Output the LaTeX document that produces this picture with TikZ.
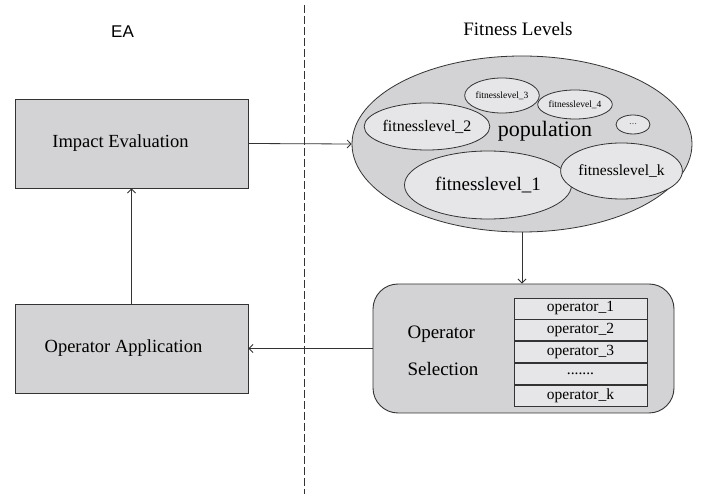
\documentclass[tikz,border=0pt]{standalone}
\usepackage{fontspec}
\setmainfont{Liberation Serif}
\newfontfamily\eafont{Liberation Sans}
\usetikzlibrary{shapes.geometric,positioning,arrows.meta}
\tikzset{>={Straight Barb[length=4pt,width=8pt]}}
\definecolor{boxGray}{HTML}{D3D3D5}
\definecolor{lvlGray}{HTML}{E6E6E8}
\definecolor{penGray}{HTML}{333333}
\tikzset{
  stagebox/.style={draw=penGray, line width=0.9pt, fill=boxGray, minimum width=233pt, minimum height=89pt, inner sep=0pt},
  lvl/.style={draw=penGray, line width=0.8pt, ellipse, fill=lvlGray, inner sep=0pt},
  opcell/.style={draw=penGray, line width=0.8pt, fill=lvlGray, minimum width=133pt, minimum height=21pt, inner sep=0pt, font=\fontsize{15.5}{17}\selectfont},
  link/.style={->, draw=penGray, line width=0.8pt}
}
\begin{document}
\begin{tikzpicture}[x=1pt,y=-1pt]
				\useasboundingbox (0,0) rectangle (716,494);
				% left side
				\node[font=\eafont\fontsize{17}{19}\selectfont] (ea) at (122.5,32) {EA};
				\node[stagebox, font=\fontsize{18.5}{21}\selectfont] (imp) at (131.5,143.5) {Impact Evaluation\kern22pt};
				\node[stagebox, font=\fontsize{18.5}{21}\selectfont] (app) at (131.5,348.5) {Operator Application\kern16pt};
				% separator
				\draw[draw=penGray, line width=0.9pt, dash pattern=on 8pt off 3pt] (304.5,5) -- (304.5,494);
				% right side
				\node[font=\fontsize{19}{21}\selectfont] (fit) at (518,29) {Fitness Levels};
				\node[lvl, fill=boxGray, minimum width=340pt, minimum height=176pt] (pop) at (522,144) {};
				\node[font=\fontsize{22}{24}\selectfont] (poptext) at (545,131) {population};
				\node[lvl, minimum width=167pt, minimum height=68pt, font=\fontsize{19}{21}\selectfont] (lvl1) at (488,185) {fitnesslevel\_1};
				\node[lvl, minimum width=102pt, minimum height=47pt, font=\fontsize{16}{18}\selectfont] (lvl2) at (427,126.5) {fitnesslevel\_2};
				\node[lvl, minimum width=64pt, minimum height=35pt, font=\fontsize{9.5}{11}\selectfont] (lvl3) at (502,95.5) {fitnesslevel\_3};
				\node[lvl, minimum width=62pt, minimum height=29pt, font=\fontsize{9.5}{11}\selectfont] (lvl4) at (575,104.5) {fitnesslevel\_4};
				\node[lvl, minimum width=34pt, minimum height=19pt, font=\fontsize{8}{9}\selectfont] (lvldots) at (633,124.5) {\ldots};
				\node[lvl, minimum width=93pt, minimum height=56pt, font=\fontsize{15.5}{17}\selectfont] (lvlk) at (621.5,171) {fitnesslevel\_k};
				\node[draw=penGray, line width=0.9pt, fill=boxGray, rounded corners=25pt, minimum width=301pt, minimum height=129pt] (sel) at (523.5,348.5) {};
				\node[align=left, font=\fontsize{19}{37}\selectfont, anchor=west] (seltext) at (404,351) {Operator\\Selection};
				\node[opcell] (op1) at (580.5,308.5) {operator\_1};
				\node[opcell, below=0pt of op1] (op2) {operator\_2};
				\node[opcell, below=0pt of op2] (op3) {operator\_3};
				\node[opcell, below=0pt of op3] (opdots) {.......};
				\node[opcell, below=0pt of opdots] (opk) {operator\_k};
				% connectors
				\draw[link] (imp.east) -- (pop.west);
				\draw[link] (pop.south) -- (pop.south |- sel.north);
				\draw[link] (sel.west) -- (app.east);
				\draw[link] (app.north) -- (imp.south);
\end{tikzpicture}
\end{document}
